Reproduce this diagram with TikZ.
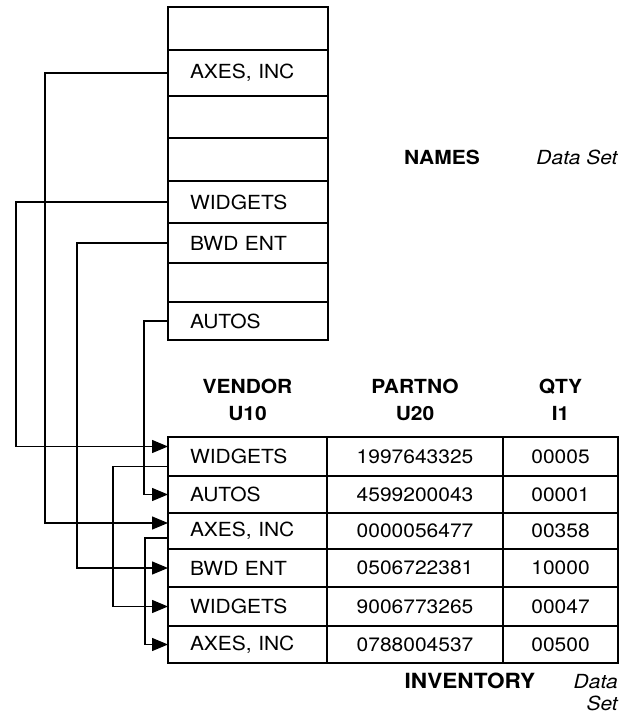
\documentclass[tikz,border=0pt]{standalone}
\usepackage{fontspec}
\setmainfont{TeX Gyre Heros}[FakeStretch=1.08]
\usetikzlibrary{arrows.meta,positioning}
\tikzset{
  >={Triangle[length=16bp,width=13bp]},
  cell/.style={draw,line width=1.6bp,outer sep=0pt,anchor=west,
    minimum width=160bp,inner xsep=22bp,text width=116bp,align=left,
    font=\fontsize{19.5}{23}\selectfont},
  numcell/.style={draw,line width=1.6bp,outer sep=0pt,align=center,
    font=\fontsize{19.5}{23}\selectfont},
  head/.style={inner sep=0pt,align=center,font=\fontsize{19.5}{27}\selectfont\bfseries},
  title/.style={inner sep=0pt,anchor=base,font=\fontsize{19.5}{23}\selectfont\bfseries},
  kind/.style={inner sep=0pt,anchor=base,font=\fontsize{19.5}{23}\selectfont\itshape},
  link/.style={->,line width=1.3bp},
}
\begin{document}
\begin{tikzpicture}[x=1bp,y=-1bp]
  \useasboundingbox (0,0) rectangle (632,713);
  % NAMES data set
  \foreach \i/\y/\h/\t in {1/28.5/43/,2/73/46/{AXES, INC},3/117/42/,4/159.5/43/,
      5/202/42/WIDGETS,6/243/40/BWD ENT,7/282.5/39/,8/321/38/AUTOS}
    \node[cell,minimum height=\h bp] (n\i) at (168,\y) {\t};
  \node[title] (names) at (442,164) {NAMES};
  \node[kind] (namesds) at (577,164) {Data Set};
  % INVENTORY data set
  \foreach \i/\y/\h/\v/\p/\q in {1/456.5/39/WIDGETS/1997643325/00005,
      2/494.5/37/AUTOS/4599200043/00001,
      3/531/36/{AXES, INC}/0000056477/00358,
      4/568/38/BWD ENT/0506722381/10000,
      5/606.5/39/WIDGETS/9006773265/00047,
      6/644.5/37/{AXES, INC}/0788004537/00500}
  {
    \node[cell,minimum width=159bp,text width=115bp,minimum height=\h bp] (v\i) at (168,\y) {\v};
    \node[numcell,minimum width=176bp,minimum height=\h bp,right=0pt of v\i] (p\i) {\p};
    \node[numcell,minimum width=115bp,minimum height=\h bp,right=0pt of p\i] (q\i) {\q};
  }
  \node[head,above=16bp of v1] (hv) {VENDOR\\U10};
  \node[head,above=16bp of p1] (hp) {PARTNO\\U20};
  \node[head,above=16bp of q1] (hq) {QTY\\I1};
  \node[title,font=\fontsize{21}{23}\selectfont\bfseries] (inv) at (470,688) {INVENTORY};
  \node[kind,anchor=base east] (invds) at (618,688) {Data};
  \node[kind,anchor=base east] (invset) at (618,710) {Set};
  % chains
  \draw[link] (n5.west) -- ++(-152,0) |- ([yshift=10bp]v1.west);
  \draw[link] (n2.west) -- ++(-123,0) |- ([yshift=8bp]v3.west);
  \draw[link] (n6.west) -- ++(-91,0) |- (v4.west);
  \draw[link] (n8.west) -- ++(-24,0) |- (v2.west);
  \draw[link] ([yshift=-10bp]v1.west) -- ++(-55,0) |- (v5.west);
  \draw[link] ([yshift=-7bp]v3.west) -- ++(-23,0) |- (v6.west);
\end{tikzpicture}
\end{document}
